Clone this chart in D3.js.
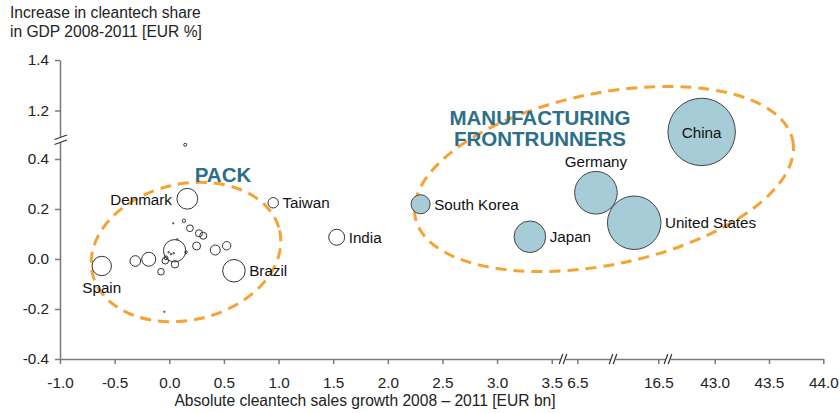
<!DOCTYPE html>
<html>
<head>
<meta charset="utf-8">
<script src="https://cdn.jsdelivr.net/npm/d3@7"></script>
<style>
  body { margin: 0; background: #fff; }
  svg { display: block; font-family: "Liberation Sans", Arial, sans-serif; }
</style>
</head>
<body>
<svg id="chart" width="840" height="413"></svg>
<script>
// Manufacturing frontrunners (filled bubbles)
const mfgNames = ['China', 'United States', 'Germany', 'Japan', 'South Korea'];
const mfgX     = [42.88, 16.28, 6.67, 3.30, 2.30];
const mfgY     = [1.115, 0.145, 0.265, 0.089, 0.219];
const mfgSize  = [100, 63, 40, 22, 8];

// Labelled "pack" countries (hollow bubbles)
const packNames = ['Denmark', 'Taiwan', 'India', 'Brazil', 'Spain'];
const packX     = [0.165, 0.951, 1.532, 0.592, -0.618];
const packY     = [0.241, 0.225, 0.087, -0.047, -0.028];
const packSize  = [9.5, 2.4, 5.6, 11.2, 8.3];

// Other unlabelled countries: [x, y, size]
const others = [
    [0.049, 0.033, 11.0], [-0.311, -0.008, 2.5], [-0.188, -0.001, 4.3],
    [0.146, 0.457, 0.2], [0.134, 0.153, 0.25], [0.037, 0.143, 0.04],
    [0.189, 0.123, 1.0], [0.272, 0.103, 1.1], [0.311, 0.093, 1.1],
    [0.250, 0.052, 1.4], [0.421, 0.036, 2.2], [0.525, 0.053, 1.55],
    [0.073, 0.079, 0.04], [0.153, 0.027, 0.15], [-0.037, -0.007, 0.96],
    [0.052, -0.021, 1.2], [-0.076, -0.051, 0.96], [-0.045, -0.211, 0.04],
    [-0.006, 0.027, 0.05], [0.016, 0.019, 0.05], [0.040, 0.023, 0.05],
    [-0.030, 0.005, 0.3]
];

// Axis ticks and breaks
const xTicks = [-1.0, -0.5, 0.0, 0.5, 1.0, 1.5, 2.0, 2.5, 3.0, 3.5, 6.5, 16.5, 43.0, 43.5, 44.0];
const yTicks = [-0.4, -0.2, 0.0, 0.2, 0.4, 1.2, 1.4];
const xDomain = [-1, 3.603, 6.369, 6.826, 16.086, 16.589, 42.57, 44.0];
const yDomain = [-0.4, 0.476, 1.083, 1.4];

const labelPos = {
    'China': 'center', 'United States': 'right', 'Germany': 'above',
    'Japan': 'right', 'South Korea': 'right', 'Denmark': 'left',
    'Taiwan': 'right', 'India': 'right', 'Brazil': 'right', 'Spain': 'below'
};

const ORANGE = '#f6a234';
const TEAL = '#2b6f88';
const FILL = '#a6ccd8';

const svg = d3.select('#chart');

// broken x axis: segments share the same unit width
const x = d3.scaleLinear()
    .domain(xDomain)
    .range([60, 563, 563, 613, 613, 668, 668, 823.3]);

const y = d3.scaleLinear()
    .domain(yDomain)
    .range([359, 140, 140, 60]);

const r = d3.scaleSqrt().domain([0, 100]).range([0, 33.7]);

const fmt = d => d.toFixed(1);

// axes
const xAxis = svg.append('g')
    .attr('transform', 'translate(0,359)')
    .call(d3.axisBottom(x).tickValues(xTicks).tickSize(5).tickSizeOuter(0).tickFormat(fmt));

const yAxis = svg.append('g')
    .attr('transform', 'translate(60,0)')
    .call(d3.axisLeft(y).tickValues(yTicks).tickSize(5).tickSizeOuter(0).tickFormat(fmt));

[xAxis, yAxis].forEach(a => {
    a.select('.domain').attr('stroke', '#7a7a7a').attr('stroke-width', 1.5);
    a.selectAll('.tick line').attr('stroke', '#7a7a7a').attr('stroke-width', 1.5);
    a.selectAll('.tick text')
        .attr('fill', '#222')
        .attr('font-size', 15.3)
        .attr('font-family', '"Liberation Sans", Arial, sans-serif');
});
xAxis.selectAll('.tick text').attr('y', 18);
yAxis.selectAll('.tick text').attr('x', -11);

// break marks on the x axis
const xBreaks = [xDomain[1], xDomain[3], xDomain[5]];
xBreaks.forEach(b => {
    const bx = x(b);
    svg.append('rect').attr('x', bx - 2.5).attr('y', 355).attr('width', 5).attr('height', 8).attr('fill', '#fff');
    [-2, 2].forEach(off => {
        svg.append('line')
            .attr('x1', bx + off - 1.8).attr('y1', 364)
            .attr('x2', bx + off + 1.8).attr('y2', 354)
            .attr('stroke', '#333').attr('stroke-width', 1.2);
    });
});

// break mark on the y axis
const by = y(yDomain[1]);
svg.append('rect').attr('x', 56).attr('y', by - 2.5).attr('width', 8).attr('height', 5).attr('fill', '#fff');
[-2.5, 2.5].forEach(off => {
    svg.append('line')
        .attr('x1', 54.5).attr('y1', by + off + 2)
        .attr('x2', 67).attr('y2', by + off - 2.5)
        .attr('stroke', '#333').attr('stroke-width', 1.2);
});

// axis titles
const yTitle = svg.append('text')
    .attr('x', 10).attr('y', 18)
    .attr('font-size', 15.6).attr('fill', '#222');
yTitle.append('tspan').attr('x', 10).text('Increase in cleantech share');
yTitle.append('tspan').attr('x', 10).attr('dy', 18.5).text('in GDP 2008-2011 [EUR %]');

svg.append('text')
    .attr('x', 365).attr('y', 406)
    .attr('text-anchor', 'middle')
    .attr('font-size', 15.6).attr('fill', '#222')
    .text('Absolute cleantech sales growth 2008 \u2013 2011 [EUR bn]');

// group ellipses
function groupEllipse(cx, cy, rx, ry, angle) {
    svg.append('ellipse')
        .attr('transform', `translate(${x(cx)},${y(cy)}) rotate(${angle})`)
        .attr('rx', rx).attr('ry', ry)
        .attr('fill', 'none')
        .attr('stroke', ORANGE)
        .attr('stroke-width', 3)
        .attr('stroke-dasharray', '11 7');
}
groupEllipse(0.153, 0.028, 96, 68, -13);
groupEllipse(6.744, 0.32, 192.6, 85.8, -11.6);

// bubbles
const bubbles = svg.append('g');

bubbles.selectAll('circle.other')
    .data(others)
    .join('circle')
    .attr('class', 'other')
    .attr('cx', d => x(d[0]))
    .attr('cy', d => y(d[1]))
    .attr('r', d => r(d[2]))
    .attr('fill', 'none')
    .attr('stroke', '#333')
    .attr('stroke-width', 1);

const packData = packNames.map((n, i) => ({ name: n, x: packX[i], y: packY[i], size: packSize[i] }));
const mfgData = mfgNames.map((n, i) => ({ name: n, x: mfgX[i], y: mfgY[i], size: mfgSize[i] }));

bubbles.selectAll('circle.pack')
    .data(packData)
    .join('circle')
    .attr('class', 'pack')
    .attr('cx', d => x(d.x))
    .attr('cy', d => y(d.y))
    .attr('r', d => r(d.size))
    .attr('fill', 'none')
    .attr('stroke', '#333')
    .attr('stroke-width', 1);

bubbles.selectAll('circle.mfg')
    .data(mfgData)
    .join('circle')
    .attr('class', 'mfg')
    .attr('cx', d => x(d.x))
    .attr('cy', d => y(d.y))
    .attr('r', d => r(d.size))
    .attr('fill', FILL)
    .attr('stroke', '#444')
    .attr('stroke-width', 1);

// country labels
svg.append('g').selectAll('text')
    .data(packData.concat(mfgData))
    .join('text')
    .attr('font-size', 15.2)
    .attr('fill', '#111')
    .each(function (d) {
        const t = d3.select(this);
        const cx = x(d.x), cy = y(d.y), rr = r(d.size);
        const pos = labelPos[d.name];
        if (pos === 'right') {
            t.attr('x', cx + rr + 4).attr('y', cy + 5.5).attr('text-anchor', 'start');
        } else if (pos === 'left') {
            t.attr('x', cx - rr - 5).attr('y', cy + 6).attr('text-anchor', 'end');
        } else if (pos === 'above') {
            t.attr('x', cx).attr('y', cy - rr - 4.5).attr('text-anchor', 'middle');
        } else if (pos === 'below') {
            t.attr('x', cx).attr('y', cy + rr + 17).attr('text-anchor', 'middle');
        } else {
            t.attr('x', cx).attr('y', cy + 6).attr('text-anchor', 'middle');
        }
    })
    .text(d => d.name);

// group titles
svg.append('text')
    .attr('x', 223).attr('y', 181.5)
    .attr('text-anchor', 'middle')
    .attr('font-size', 20.5).attr('font-weight', 'bold').attr('fill', TEAL)
    .text('PACK');

const mt = svg.append('text')
    .attr('text-anchor', 'middle')
    .attr('font-size', 20.5).attr('font-weight', 'bold').attr('fill', TEAL);
mt.append('tspan').attr('x', 540).attr('y', 124.5).text('MANUFACTURING');
mt.append('tspan').attr('x', 540).attr('y', 145.5).text('FRONTRUNNERS');
</script>
</body>
</html>
